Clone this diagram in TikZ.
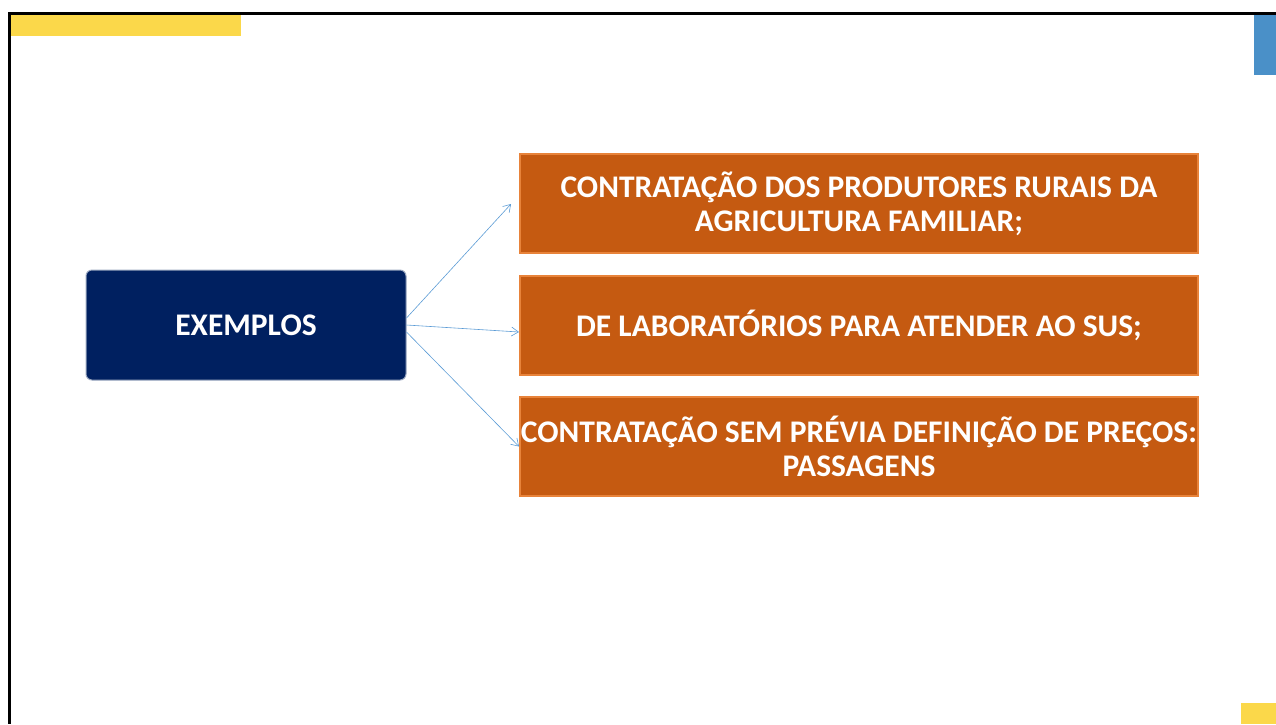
\documentclass[tikz,border=0pt]{standalone}
\usepackage{fontspec}
\setmainfont{Carlito}
\usetikzlibrary{arrows.meta}

\definecolor{navy}{RGB}{0,32,96}
\definecolor{laranja}{RGB}{197,90,17}
\definecolor{laranjaborda}{RGB}{232,131,58}
\definecolor{amarelo}{RGB}{251,216,74}
\definecolor{azul}{RGB}{74,144,200}
\definecolor{seta}{RGB}{91,155,213}

\tikzset{
  exbox/.style={fill=navy, draw=navy!40!white, line width=1pt, rounded corners=6pt,
    minimum width=320pt, minimum height=110pt, text=white, font=\bfseries\fontsize{31.5}{34}\selectfont},
  itembox/.style={fill=laranja, draw=laranjaborda, line width=2pt,
    minimum width=678pt, minimum height=99pt, text=white, align=center,
    font=\bfseries\fontsize{31.5}{34}\selectfont, inner sep=0pt},
  conector/.style={seta, line width=0.6pt, -{Straight Barb[length=7pt,width=9pt]}}
}

\begin{document}
\begin{tikzpicture}[x=1pt,y=-1pt]
\useasboundingbox (0,0) rectangle (1276,724);

% Frame and corner bars
\fill[amarelo] (11,15) rectangle (241,36);
\fill[azul] (1254,15) rectangle (1276,75);
\fill[amarelo] (1241,703) rectangle (1276,724);
\draw[black, line width=3pt] (1276,13.5) -- (9.5,13.5) -- (9.5,724);

% Boxes
\node[exbox] (exemplos) at (246,325) {EXEMPLOS};
\node[itembox] (contratacao) at (859,203.5) {CONTRATAÇÃO DOS PRODUTORES RURAIS DA\\AGRICULTURA FAMILIAR;};
\node[itembox] (laboratorios) at (859,325.5) {DE LABORATÓRIOS PARA ATENDER AO SUS;};
\node[itembox] (passagens) at (859,446.5) {CONTRATAÇÃO SEM PRÉVIA DEFINIÇÃO DE PREÇOS:\\PASSAGENS};

% Arrows
\coordinate (fim1) at (511,204);
\draw[conector] (exemplos.east) ++(0,-7) -- (fim1);
\draw[conector] (exemplos.east) -- ([yshift=-6.5pt]laboratorios.west);
\draw[conector] (exemplos.east) ++(0,7) -- (passagens.west);
\end{tikzpicture}
\end{document}
